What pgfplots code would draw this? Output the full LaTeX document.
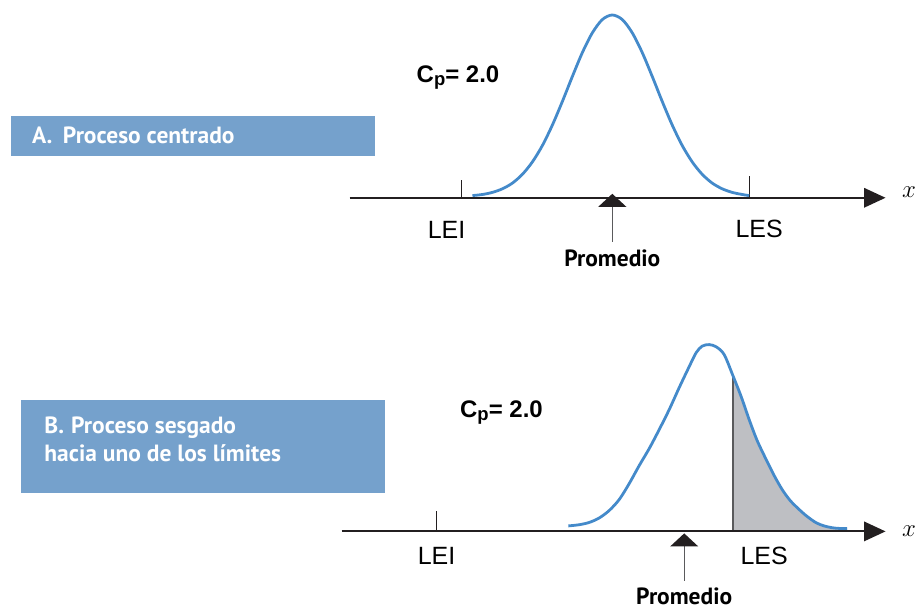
\documentclass[border=0pt]{standalone}
\usepackage{pgfplots}
\pgfplotsset{compat=1.18}
\usepackage{fontspec}
\setmainfont{Liberation Sans}
\newfontfamily\myriad{PT Sans}
\definecolor{curveblue}{RGB}{68,138,202}
\definecolor{boxblue}{RGB}{117,161,204}
\definecolor{shade}{RGB}{190,191,195}
\definecolor{axisdark}{RGB}{35,31,32}
\definecolor{stemgray}{RGB}{90,90,92}
\begin{document}
\begin{tikzpicture}
\begin{axis}[width=916pt, height=610pt, scale only axis,
  xmin=0, xmax=916, ymin=0, ymax=610, y dir=reverse,
  hide axis, clip=false]
\path (axis cs:0,0) rectangle (axis cs:916,610);
% ---- boxes
\addplot[fill=boxblue, draw=none] coordinates {(11,116) (375,116) (375,156.5) (11,156.5)};
\addplot[fill=boxblue, draw=none] coordinates {(21,400) (385,400) (385,493.3) (21,493.3)};
\node[anchor=base west, text=white, inner sep=0pt] at (axis cs:32,143.3)
  {\fontsize{23.5}{27}\selectfont\myriad\bfseries A.\hspace{0.45em}Proceso centrado};
\node[anchor=base west, text=white, inner sep=0pt] at (axis cs:44.3,434)
  {\fontsize{23.5}{27}\selectfont\myriad\bfseries B.\hspace{0.3em}Proceso sesgado};
\node[anchor=base west, text=white, inner sep=0pt] at (axis cs:44.3,461.7)
  {\fontsize{23.5}{27}\selectfont\myriad\bfseries hacia uno de los límites};
% ---- top panel
\addplot[draw=axisdark, line width=2pt] coordinates {(350,198) (866,198)};
\addplot[fill=axisdark, draw=none] coordinates {(865,188) (886.5,198) (865,208)};
\addplot[draw=axisdark, line width=1.4pt] coordinates {(462,180.5) (462,198)};
\addplot[draw=axisdark, line width=1.4pt] coordinates {(750.5,176.5) (750.5,198)};
\addplot[curveblue, line width=2.8pt, smooth] coordinates {
(473,195.8) (483,194.7) (493,192.6) (503,189) (513,183.3) (523,174.5)
(533,162.1) (543,145.7) (553,125.2) (563,101.6) (573,76.6) (583,52.7)
(593,32.9) (603,19.6) (613,15) (623,19.6) (633,32.9) (643,52.7)
(653,76.6) (663,101.6) (673,125.2) (683,145.7) (693,162.1) (703,174.5)
(713,183.3) (723,189) (733,192.6) (743,194.7) (750,195.8)};
\addplot[draw=stemgray, line width=1.2pt] coordinates {(613,205) (613,242)};
\addplot[fill=axisdark, draw=none] coordinates {(613,194) (627,207) (599,207)};
\node[anchor=base, inner sep=0pt] at (axis cs:447,239) {\fontsize{25}{30}\selectfont LEI};
\node[anchor=base, inner sep=0pt] at (axis cs:760,238) {\fontsize{25}{30}\selectfont LES};
\node[anchor=base, inner sep=0pt] at (axis cs:613,267) {\fontsize{23.5}{27}\selectfont\myriad\bfseries Promedio};
\node[anchor=base west, inner sep=0pt] at (axis cs:417,83)
  {\fontsize{24}{28}\selectfont\bfseries C\raisebox{-0.22ex}{\fontsize{18.5}{18.5}\selectfont p}= 2.0};
\node[anchor=base west, inner sep=0pt] at (axis cs:903,198) {\fontsize{24}{28}\selectfont$x$};
% ---- bottom panel
\addplot[fill=shade, draw=none] coordinates {
(734,532) (734,376.7) (742,397) (750,420) (758,441) (767,460) (775,476)
(783,490) (791,501) (800,510) (808,517) (817,523.3) (825,526.5) (833,528.3)
(840,529) (848,529) (848,532)};
\addplot[draw=stemgray, line width=1.5pt] coordinates {(734,532) (734,376.7)};
\addplot[draw=axisdark, line width=2pt] coordinates {(342,532) (866,532)};
\addplot[fill=axisdark, draw=none] coordinates {(865,522) (886.5,532) (865,542)};
\addplot[draw=axisdark, line width=1.4pt] coordinates {(437,512) (437,532)};
\addplot[curveblue, line width=2.8pt, smooth] coordinates {
(569,526.5) (580,525.3) (590,523) (600,518.5) (610,511) (620,500)
(630,484) (640,466) (650,449) (660,430) (670,410) (680,388) (690,367)
(697,353) (703,346.5) (710,345)
(717,347.2) (725,355) (734,376.7) (742,397) (750,420) (758,441) (767,460)
(775,476) (783,490) (791,501) (800,510) (808,517) (817,523.3) (825,526.5)
(833,528.3) (840,529) (848,529)};
\addplot[draw=stemgray, line width=1.2pt] coordinates {(685,545) (685,582)};
\addplot[fill=axisdark, draw=none] coordinates {(685,534) (699,547) (671,547)};
\node[anchor=base, inner sep=0pt] at (axis cs:437,565) {\fontsize{25}{30}\selectfont LEI};
\node[anchor=base, inner sep=0pt] at (axis cs:765,565) {\fontsize{25}{30}\selectfont LES};
\node[anchor=base, inner sep=0pt] at (axis cs:685,605) {\fontsize{23.5}{27}\selectfont\myriad\bfseries Promedio};
\node[anchor=base west, inner sep=0pt] at (axis cs:460.5,418.3)
  {\fontsize{24}{28}\selectfont\bfseries C\raisebox{-0.22ex}{\fontsize{18.5}{18.5}\selectfont p}= 2.0};
\node[anchor=base west, inner sep=0pt] at (axis cs:903,537) {\fontsize{24}{28}\selectfont$x$};
\end{axis}
\end{tikzpicture}
\end{document}
